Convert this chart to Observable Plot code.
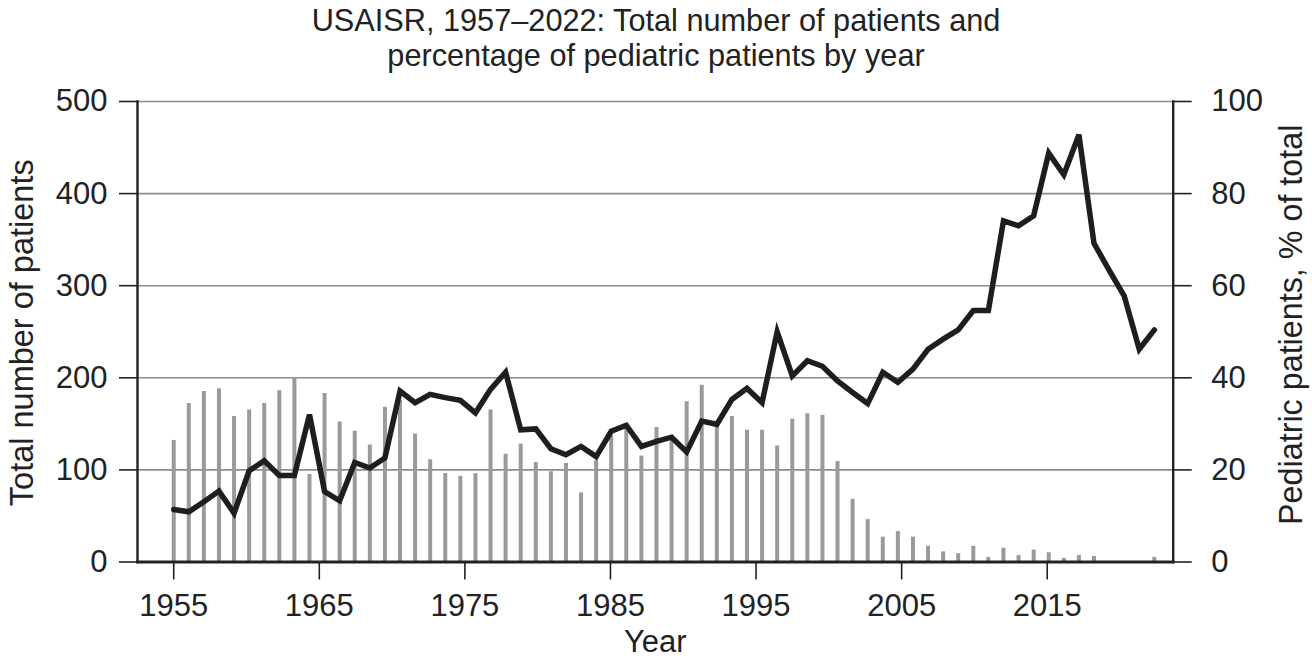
<!DOCTYPE html>
<html><head><meta charset="utf-8">
<script src="https://cdn.jsdelivr.net/npm/d3@7"></script>
<script src="https://cdn.jsdelivr.net/npm/@observablehq/plot@0.6"></script>
<style>
html,body{margin:0;padding:0;background:#fff;}
body{width:1312px;height:669px;overflow:hidden;font-family:"Liberation Sans",Arial,Helvetica,sans-serif;color:#222;}
#title{height:80px;box-sizing:border-box;padding-top:3px;text-align:center;font-size:30.7px;line-height:35px;color:#222;}
#chart svg{display:block;}
</style></head><body>
<div id="title">USAISR, 1957–2022: Total number of patients and<br>percentage of pediatric patients by year</div>
<div id="chart"></div>
<script>
const years = [1957,1958,1959,1960,1961,1962,1963,1964,1965,1966,1967,1968,1969,1970,1971,1972,1973,1974,1975,1976,
  1977,1978,1979,1980,1981,1982,1983,1984,1985,1986,1987,1988,1989,1990,1991,1992,1993,1994,1995,1996,
  1997,1998,1999,2000,2001,2002,2003,2004,2005,2006,2007,2008,2009,2010,2011,2012,2013,2014,2015,2016,
  2017,2018,2019,2020,2021,2022];
const totalPatients = [132,172,185,188,158,165,172,186,200,95,183,152,142,127,168,175,139,111,96,93,
  96,165,117,128,108,98,107,75,110,137,145,115,146,135,174,192,148,158,143,143,
  126,155,161,159,109,68,46,27,33,27,17,11,9,17,5,15,7,13,10,4,
  7,6,0,0,0,5];
const pediatricPct = [11.4,10.9,13.1,15.4,10.6,19.8,22.0,18.8,18.8,32.0,15.3,13.3,21.6,20.4,22.6,37.1,34.6,36.4,35.7,35.1,
  32.4,37.5,41.2,28.7,28.9,24.6,23.3,25.1,22.9,28.4,29.7,25.1,26.2,27.1,23.9,30.6,29.9,35.3,37.7,34.6,
  50.0,40.4,43.7,42.5,39.3,36.8,34.4,41.2,39.0,41.9,46.2,48.4,50.4,54.6,54.6,74.1,73.0,75.2,88.8,84.1,
  92.8,69.2,63.4,57.8,46.2,50.4];
const leftTicks = [0,100,200,300,400,500];
const rightTickLabels = [0,20,40,60,80,100];
const xTickLabels = ["1955","1965","1975","1985","1995","2005","2015"];

const data = years.map((year,i)=>({year,total:totalPatients[i],pct:pediatricPct[i]}));
// the original's year ticks are spaced slightly tighter than the yearly bars
const tickPos = xTickLabels.map(L => 1957 + (+L-1955)*0.965);
const pctToTotal = p => p*5;

const chart = Plot.plot({
  width:1312, height:589,
  marginTop:21, marginBottom:107.5, marginLeft:137, marginRight:139.3,
  x:{domain:[1954.6,2023.25]},
  y:{domain:[0,500]},
  style:{fontFamily:'"Liberation Sans",Arial,Helvetica,sans-serif', fontSize:"31px", color:"#222", background:"#fff", overflow:"visible"},
  marks:[
    Plot.gridY([100,200,300,400,500],{stroke:"#8c8c8c",strokeOpacity:1,strokeWidth:1.6}),
    Plot.ruleX(data,{x:"year",y1:0,y2:"total",stroke:"#9a9a9a",strokeWidth:4}),
    Plot.axisY(leftTicks,{anchor:"left",tickSize:18,tickPadding:12,label:null,stroke:"#222",strokeWidth:1.6,fontSize:31}),
    Plot.axisY(rightTickLabels.map(pctToTotal),{anchor:"right",tickFormat:d=>String(d/5),tickSize:18,tickPadding:20,label:null,stroke:"#222",strokeWidth:1.6,fontSize:31}),
    Plot.axisX(tickPos,{anchor:"bottom",tickFormat:(d,i)=>xTickLabels[i],tickSize:18,tickPadding:14,label:null,stroke:"#222",strokeWidth:1.6,fontSize:31}),
    Plot.frame({anchor:"left",stroke:"#222",strokeWidth:2.4}),
    Plot.frame({anchor:"right",stroke:"#222",strokeWidth:2.4}),
    Plot.frame({anchor:"bottom",stroke:"#222",strokeWidth:2.8}),
    Plot.line(data,{x:"year",y:d=>pctToTotal(d.pct),stroke:"#1e1e1e",strokeWidth:5.5,strokeLinejoin:"miter",strokeMiterlimit:4}),
    Plot.text(["Total number of patients"],{frameAnchor:"left",textAnchor:"middle",dx:-115,dy:1,rotate:-90,fontSize:32.5,fill:"#222"}),
    Plot.text(["Pediatric patients, % of total"],{frameAnchor:"right",textAnchor:"middle",dx:118,dy:-7,rotate:-90,fontSize:32.3,fill:"#222"}),
    Plot.text(["Year"],{frameAnchor:"bottom",dy:90,fontSize:31,fill:"#222"})
  ]
});
document.getElementById("chart").appendChild(chart);
</script>
</body></html>
